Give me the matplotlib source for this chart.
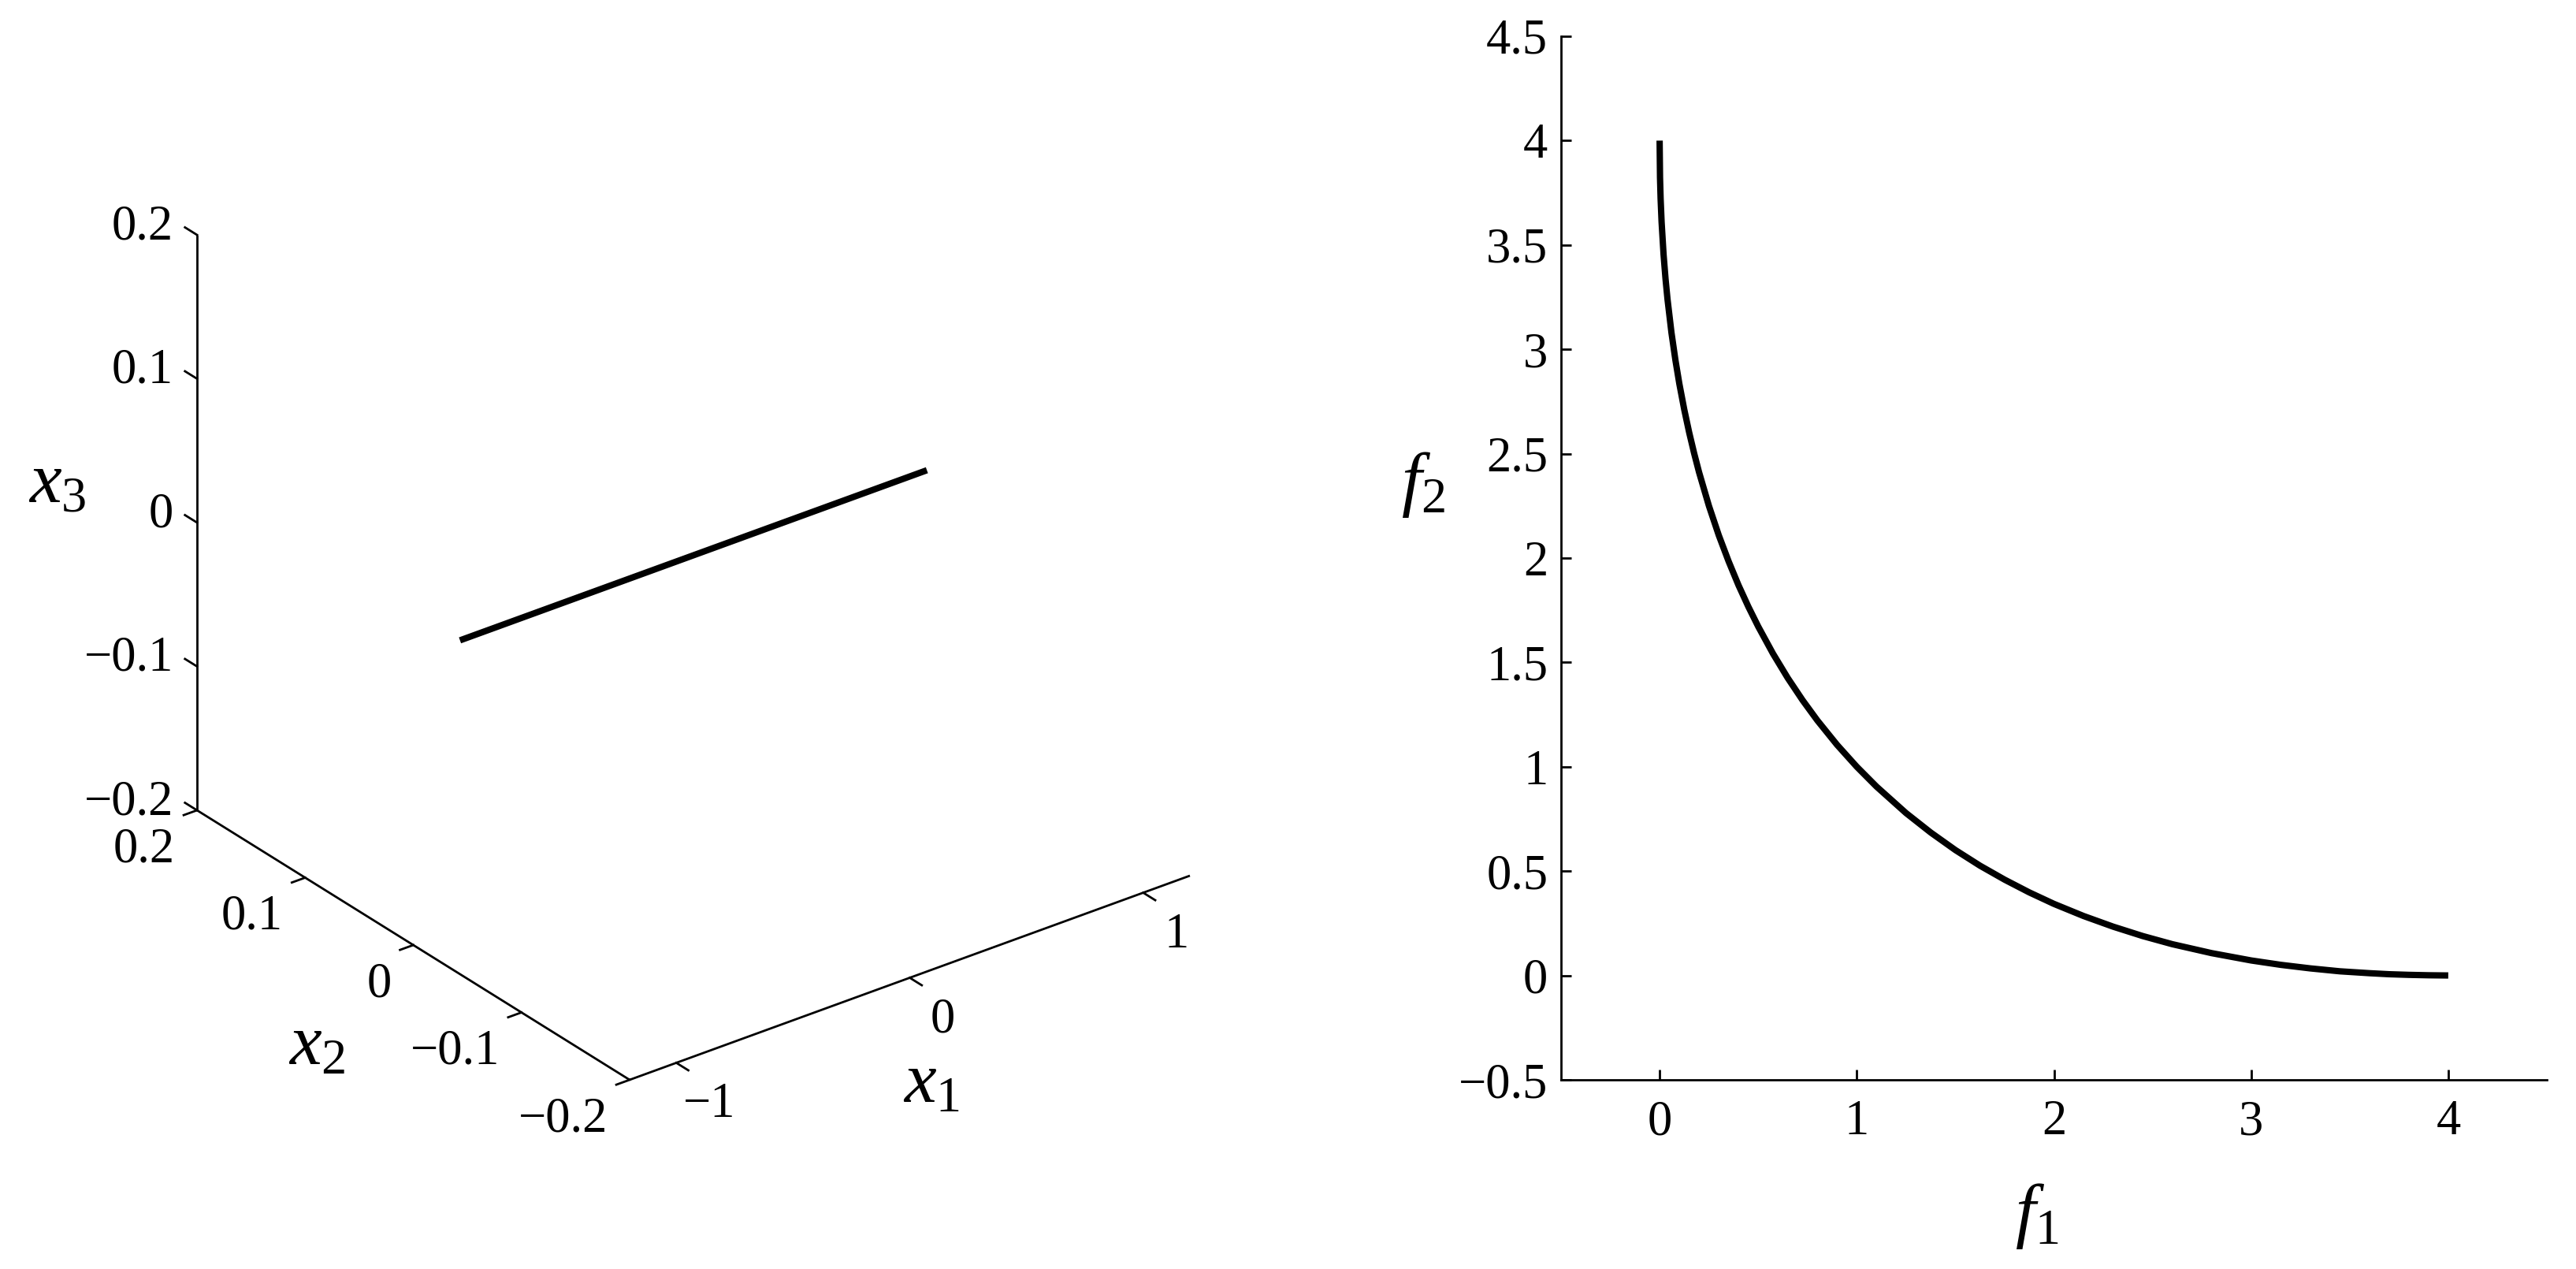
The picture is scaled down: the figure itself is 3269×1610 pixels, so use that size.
import numpy as np
import matplotlib
matplotlib.use("Agg")
import matplotlib.pyplot as plt

######################################################################
# Data
######################################################################

# Pareto set (left panel): straight segment in decision space
ps_x1 = [-1.0, 1.0]
ps_x2 = [0.0, 0.0]
ps_x3 = [0.0, 0.0]

# Pareto front (right panel)
pf_f1 = [0.0, 0.002, 0.005, 0.01, 0.02, 0.03, 0.04, 0.06, 0.08, 0.1, 0.125,
         0.15, 0.175, 0.2, 0.25, 0.3, 0.35, 0.4, 0.45, 0.5, 0.575, 0.65,
         0.725, 0.8, 0.9, 1.0, 1.1, 1.25, 1.375, 1.5, 1.625, 1.75, 1.875,
         2.0, 2.15, 2.3, 2.45, 2.6, 2.8, 3.0, 3.15, 3.3, 3.45, 3.6, 3.7,
         3.8, 3.9, 4.0]
pf_f2 = [4.0, 3.823, 3.722, 3.61, 3.454, 3.337, 3.24, 3.08, 2.949, 2.835,
         2.711, 2.601, 2.502, 2.411, 2.25, 2.109, 1.984, 1.87, 1.767, 1.672,
         1.542, 1.425, 1.319, 1.222, 1.105, 1.0, 0.905, 0.778, 0.685, 0.601,
         0.526, 0.459, 0.398, 0.343, 0.285, 0.234, 0.189, 0.15, 0.107, 0.072,
         0.051, 0.034, 0.02, 0.011, 0.006, 0.003, 0.001, 0.0]

x1_ticks = [-1, 0, 1]
x2_ticks = [0.2, 0.1, 0, -0.1, -0.2]
x3_ticks = [0.2, 0.1, 0, -0.1, -0.2]
x1_lim = (-1.2, 1.2)
x2_lim = (-0.2, 0.2)
x3_lim = (-0.2, 0.2)

f1_ticks = [0, 1, 2, 3, 4]
f2_ticks = [-0.5, 0, 0.5, 1, 1.5, 2, 2.5, 3, 3.5, 4, 4.5]


def lab(v):
    s = ("%g" % v)
    return s.replace("-", "\u2212")


######################################################################
# Style
######################################################################

plt.rcParams['font.family'] = ['Liberation Serif', 'DejaVu Serif']
plt.rcParams['mathtext.fontset'] = 'custom'
plt.rcParams['mathtext.rm'] = 'Liberation Serif'
plt.rcParams['mathtext.it'] = 'Liberation Serif:italic'

W, H = 3269, 1610
DPI = 200
fig = plt.figure(figsize=(W / DPI, H / DPI), dpi=DPI)

TICK_FS = 22.5
LAB_FS = 33
AX_LW = 1.0
CURVE_LW = 2.9

######################################################################
# Left panel: 3D view drawn by hand (pixel coordinates)
######################################################################

ax1 = fig.add_axes([0, 0, 1, 1])
ax1.set_xlim(0, W)
ax1.set_ylim(H, 0)
ax1.axis('off')

# projection: corner (x1lo, x2lo, x3lo) and the screen vectors of each full axis
corner = np.array([799.0, 1370.0])
v1 = np.array([711.0, -259.0])   # x1 from lo to hi
v2 = np.array([-549.0, -342.0])  # x2 from lo to hi
v3 = np.array([0.0, -730.0])     # x3 from lo to hi


def proj(a, b, c):
    a = np.asarray(a, float)
    b = np.asarray(b, float)
    c = np.asarray(c, float)
    t1 = (a - x1_lim[0]) / (x1_lim[1] - x1_lim[0])
    t2 = (b - x2_lim[0]) / (x2_lim[1] - x2_lim[0])
    t3 = (c - x3_lim[0]) / (x3_lim[1] - x3_lim[0])
    px = corner[0] + t1 * v1[0] + t2 * v2[0] + t3 * v3[0]
    py = corner[1] + t1 * v1[1] + t2 * v2[1] + t3 * v3[1]
    return px, py


def unit(v):
    return v / np.hypot(*v)


tl = 18.0  # tick length in px

# x1 axis (at x2lo, x3lo)
px, py = proj(x1_lim, [x2_lim[0]] * 2, [x3_lim[0]] * 2)
ax1.plot(px, py, color='k', lw=AX_LW, solid_capstyle='butt')
d = -unit(v2)
for t in x1_ticks:
    x0, y0 = proj(t, x2_lim[0], x3_lim[0])
    ax1.plot([x0, x0 + tl * d[0]], [y0, y0 + tl * d[1]], color='k', lw=AX_LW)
    ax1.text(x0 + 42, y0 + 54, lab(t), fontsize=TICK_FS, ha='center', va='center')

# x2 axis (at x1lo, x3lo)
px, py = proj([x1_lim[0]] * 2, x2_lim, [x3_lim[0]] * 2)
ax1.plot(px, py, color='k', lw=AX_LW, solid_capstyle='butt')
d = -unit(v1)
for t in x2_ticks:
    x0, y0 = proj(x1_lim[0], t, x3_lim[0])
    ax1.plot([x0, x0 + tl * d[0]], [y0, y0 + tl * d[1]], color='k', lw=AX_LW)
    ax1.text(x0 - 28, y0 + 50, lab(t), fontsize=TICK_FS, ha='right', va='center')

# x3 axis (at x1lo, x2hi)
px, py = proj([x1_lim[0]] * 2, [x2_lim[1]] * 2, x3_lim)
ax1.plot(px, py, color='k', lw=AX_LW, solid_capstyle='butt')
d = unit(v2)
for t in x3_ticks:
    x0, y0 = proj(x1_lim[0], x2_lim[1], t)
    ax1.plot([x0, x0 + tl * d[0]], [y0, y0 + tl * d[1]], color='k', lw=AX_LW)
    ax1.text(x0 - 30, y0 - 10, lab(t), fontsize=TICK_FS, ha='right', va='center')

# axis labels
ax1.text(1182, 1376, r'$x_1$', fontsize=LAB_FS, ha='center', va='center')
ax1.text(402, 1328, r'$x_2$', fontsize=LAB_FS, ha='center', va='center')
ax1.text(73, 615, r'$x_3$', fontsize=LAB_FS, ha='center', va='center')

# the Pareto set
px, py = proj(ps_x1, ps_x2, ps_x3)
ax1.plot(px, py, color='k', lw=CURVE_LW, solid_capstyle='butt')

######################################################################
# Right panel: Pareto front
######################################################################

ax2 = fig.add_axes([1981 / W, 1 - 1370 / H, (3232 - 1981) / W, (1370 - 46) / H])
ax2.plot(pf_f1, pf_f2, color='k', lw=CURVE_LW, solid_capstyle='butt')
ax2.set_xlim(-0.5, 4.5)
ax2.set_ylim(-0.5, 4.5)
ax2.set_xticks(f1_ticks)
ax2.set_xticklabels([lab(t) for t in f1_ticks])
ax2.set_yticks(f2_ticks)
ax2.set_yticklabels([lab(t) for t in f2_ticks])
ax2.spines['top'].set_visible(False)
ax2.spines['right'].set_visible(False)
for s in ['left', 'bottom']:
    ax2.spines[s].set_linewidth(AX_LW)
ax2.tick_params(direction='in', length=4.7, width=AX_LW, labelsize=TICK_FS)
ax2.tick_params(axis='y', pad=6)
ax2.tick_params(axis='x', pad=9)
ax2.set_xlabel(r'$f_1$', fontsize=LAB_FS, va='center')
ax2.xaxis.set_label_coords(0.483, -0.131)
ax2.set_ylabel(r'$f_2$', fontsize=LAB_FS, rotation=0, va='center', ha='center')
ax2.yaxis.set_label_coords(-0.14, 0.57)

fig.savefig('out.png', dpi=DPI)
